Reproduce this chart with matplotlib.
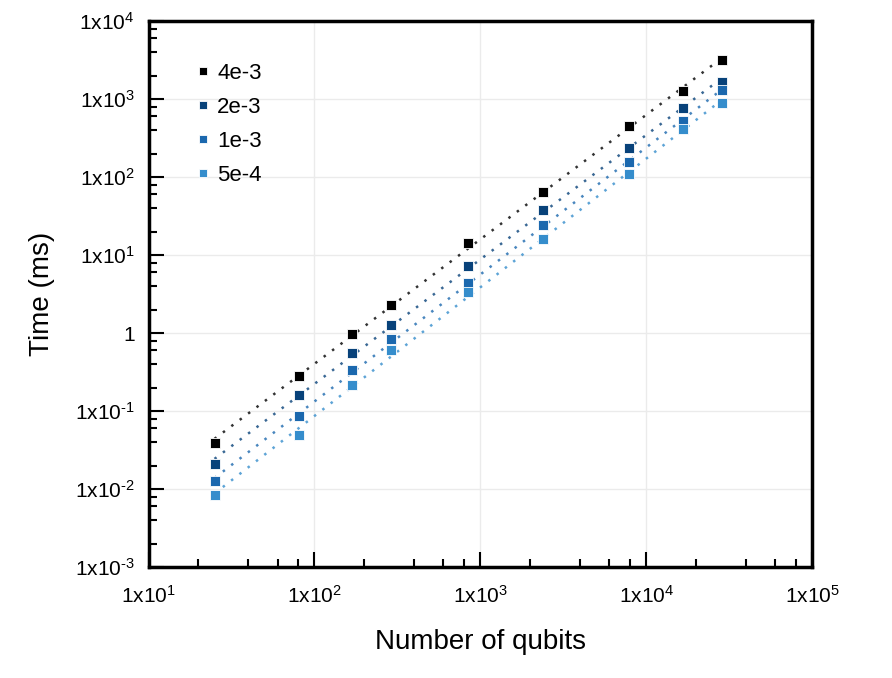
import numpy as np
import matplotlib
matplotlib.use("Agg")
import matplotlib.pyplot as plt
from matplotlib.ticker import LogLocator, FuncFormatter, NullFormatter

plt.rcParams['font.family'] = ['Liberation Sans', 'DejaVu Sans']
plt.rcParams['mathtext.fontset'] = 'custom'
plt.rcParams['mathtext.rm'] = 'Liberation Sans'
plt.rcParams['mathtext.it'] = 'Liberation Sans'
plt.rcParams['axes.unicode_minus'] = False

qubits = [25, 81, 169, 289, 841, 2401, 7921, 16641, 28561]

labels = ['4e-3', '2e-3', '1e-3', '5e-4']
colors = ['#000000', '#08427a', '#1b68ae', '#358dcc']

t_4e3 = [0.0385, 0.284, 0.962, 2.29, 14.4, 63.7, 455, 1267, 3162]
t_2e3 = [0.0209, 0.160, 0.549, 1.27, 7.29, 37.8, 238, 760, 1666]
t_1e3 = [0.0127, 0.0871, 0.336, 0.838, 4.34, 24.3, 157, 522, 1303]
t_5e4 = [0.00838, 0.0497, 0.213, 0.600, 3.38, 16.0, 109, 409, 897]
series = [t_4e3, t_2e3, t_1e3, t_5e4]

fig = plt.figure(figsize=(8.92, 6.78), dpi=100)
ax = fig.add_axes([0.1665, 0.1637, 0.7438, 0.8053])

x = np.array(qubits, dtype=float)
for lab, col, y in zip(labels, colors, series):
    y = np.array(y)
    # power-law fit in log space
    k, b = np.polyfit(np.log10(x), np.log10(y), 1)
    xf = np.array([x[0], x[-1]])
    ax.plot(xf, 10 ** (k * np.log10(xf) + b), color=col, ls=(0, (1, 3.2)),
            lw=1.8, alpha=0.8, zorder=2)
    ax.plot(x, y, 's', color=col, ms=7.5, mec='white', mew=0.6, label=lab, zorder=3)

ax.set_xscale('log')
ax.set_yscale('log')
ax.set_xlim(10, 1e5)
ax.set_ylim(1e-3, 1e4)


def sci(v, pos):
    e = int(round(np.log10(v)))
    if e == 0:
        return '1'
    if e < 0:
        return r'$\mathregular{1x10^{\text{-}%d}}$' % (-e)
    return r'$\mathregular{1x10^{%d}}$' % e


ax.xaxis.set_major_locator(LogLocator(base=10, numticks=10))
ax.yaxis.set_major_locator(LogLocator(base=10, numticks=10))
ax.xaxis.set_minor_locator(LogLocator(base=10, subs=[2, 4, 6, 8], numticks=10))
ax.yaxis.set_minor_locator(LogLocator(base=10, subs=[2, 4, 6, 8], numticks=10))
ax.xaxis.set_major_formatter(FuncFormatter(sci))
ax.yaxis.set_major_formatter(FuncFormatter(sci))
ax.xaxis.set_minor_formatter(NullFormatter())
ax.yaxis.set_minor_formatter(NullFormatter())

ax.tick_params(which='both', direction='in', top=False, right=False,
               labelsize=15, width=1.5)
ax.tick_params(which='major', length=11)
ax.tick_params(which='minor', length=6)
ax.tick_params(axis='x', which='major', pad=13)
ax.tick_params(axis='y', which='major', pad=10)

for s in ax.spines.values():
    s.set_linewidth(2.5)

ax.grid(True, which='major', color='#ebebeb', lw=1)
ax.set_axisbelow(True)

ax.set_xlabel('Number of qubits', fontsize=20, labelpad=16)
ax.set_ylabel('Time (ms)', fontsize=20, labelpad=14)

ax.legend(loc='upper left', bbox_to_anchor=(0.035, 0.96), frameon=False,
          fontsize=16, handletextpad=0.15, labelspacing=0.58, markerscale=0.85,
          handlelength=1.0)

fig.savefig('out.png', dpi=100)
